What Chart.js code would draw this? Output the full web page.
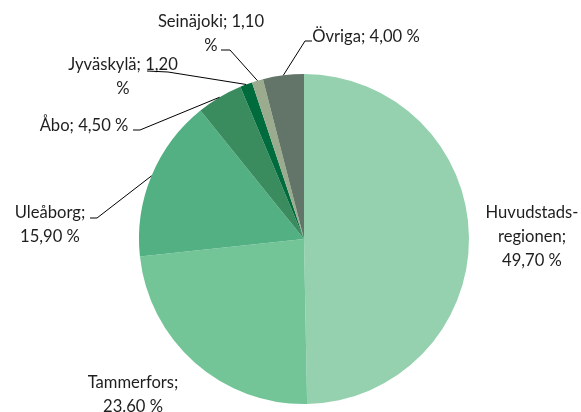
<!DOCTYPE html>
<html>
<head>
<meta charset="utf-8">
<script src="https://cdn.jsdelivr.net/npm/chart.js@4.4.0/dist/chart.umd.min.js"></script>
<style>
  html, body { margin: 0; padding: 0; background: #fff; }
  #wrap { width: 581px; height: 412px; }
</style>
</head>
<body>
<div id="wrap"><canvas id="pie" width="581" height="412"></canvas></div>
<script>
// Data
const regions = ['Huvudstadsregionen', 'Tammerfors', 'Uleåborg', 'Åbo', 'Jyväskylä', 'Seinäjoki', 'Övriga'];
const shares = [49.7, 23.6, 15.9, 4.5, 1.2, 1.1, 4.0];
const valueLabels = ['49,70 %', '23.60 %', '15,90 %', '4,50 %', '1,20 %', '1,10 %', '4,00 %'];
const sliceColors = ['#95d1ae', '#73c598', '#52b083', '#3a8c5f', '#006b3c', '#9aab8e', '#627568'];

// How each label is broken into lines
const labelLines = [
    ['Huvudstads-', 'regionen;', valueLabels[0]],
    [regions[1] + ';', valueLabels[1]],
    [regions[2] + ';', valueLabels[2]],
    [regions[3] + '; ' + valueLabels[3]],
    [regions[4] + '; ' + valueLabels[4].replace(' %', ''), '%'],
    [regions[5] + '; ' + valueLabels[5].replace(' %', ''), '%'],
    [regions[6] + '; ' + valueLabels[6]]
];

// Label placement: centre x, first line y, and leader start/elbow (null = no leader)
const labelPlace = [
    { x: 532, y: 213, leader: null },
    { x: 133, y: 383, leader: null },
    { x: 50, y: 213, leader: [[90, 218], [97, 218]] },
    { x: 84, y: 126, leader: [[133, 130], [140, 130]] },
    { x: 123, y: 65, leader: [[147, 71], [168, 72]] },
    { x: 211, y: 22, leader: [[221, 50], [230, 50]] },
    { x: 366, y: 37, leader: [[312, 41], [305, 41]] }
];
const lineGap = 24;

const labelPlugin = {
    id: 'sliceLabels',
    afterDatasetsDraw(chart) {
        const ctx = chart.ctx;
        const arcs = chart.getDatasetMeta(0).data;
        ctx.save();
        ctx.font = '16.6px Lato';
        ctx.fillStyle = '#1e1e1e';
        ctx.textAlign = 'center';
        ctx.textBaseline = 'middle';
        arcs.forEach((arc, i) => {
            const place = labelPlace[i];
            labelLines[i].forEach((line, k) => {
                ctx.fillText(line, place.x, place.y + k * lineGap);
            });
            if (place.leader) {
                const mid = (arc.startAngle + arc.endAngle) / 2;
                const ex = arc.x + arc.outerRadius * Math.cos(mid);
                const ey = arc.y + arc.outerRadius * Math.sin(mid);
                ctx.beginPath();
                ctx.strokeStyle = '#000';
                ctx.lineWidth = 1;
                ctx.moveTo(place.leader[0][0], place.leader[0][1]);
                ctx.lineTo(place.leader[1][0], place.leader[1][1]);
                ctx.lineTo(ex, ey);
                ctx.stroke();
            }
        });
        ctx.restore();
    }
};

new Chart(document.getElementById('pie'), {
    type: 'pie',
    data: {
        labels: regions,
        datasets: [{
            data: shares,
            backgroundColor: sliceColors,
            borderWidth: 0
        }]
    },
    options: {
        responsive: false,
        animation: false,
        layout: { padding: { left: 139, right: 112, top: 74, bottom: 8 } },
        plugins: {
            legend: { display: false },
            tooltip: { enabled: false }
        }
    },
    plugins: [labelPlugin]
});
</script>
</body>
</html>
